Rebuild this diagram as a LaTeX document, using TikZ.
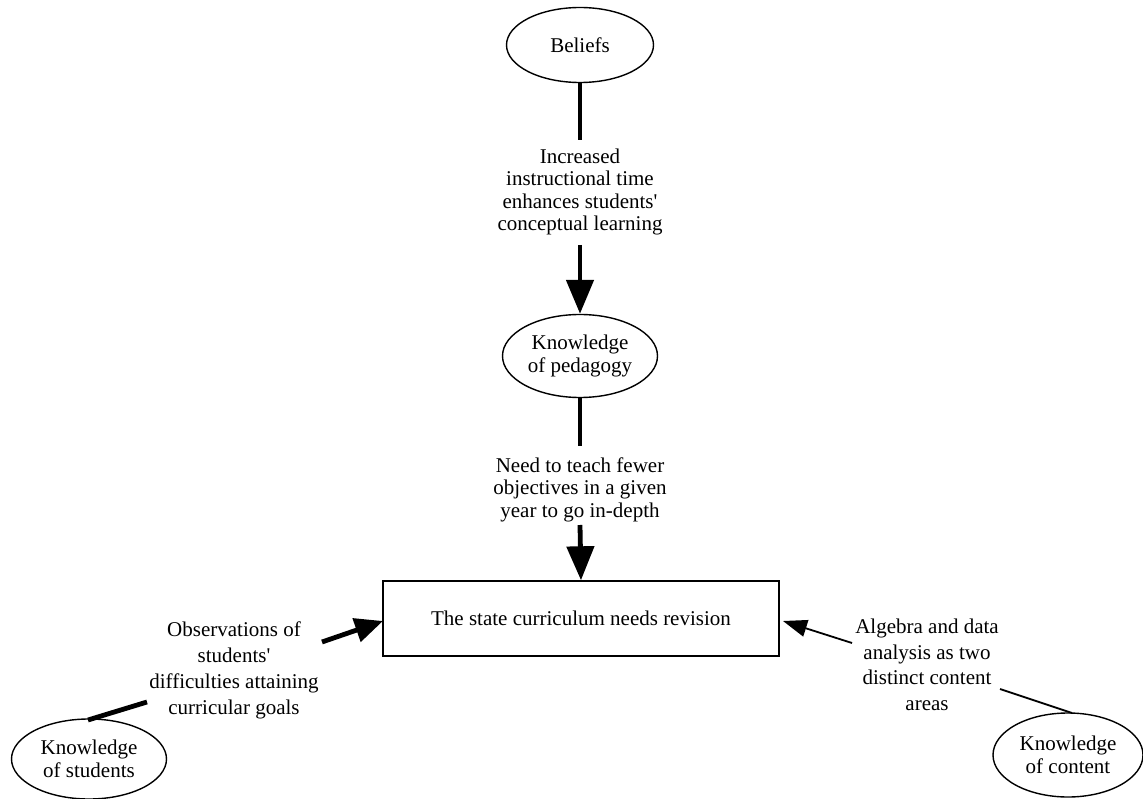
\documentclass[tikz,border=0pt]{standalone}
\usepackage{fontspec}
\setmainfont{Liberation Serif}[Ligatures=TeXOff]
\usetikzlibrary{shapes.geometric,arrows.meta}
\tikzset{
  ell/.style={ellipse, draw, line width=1.4pt, inner sep=0pt, align=center, font=\fontsize{21}{23}\selectfont},
  lbl/.style={align=center, inner sep=0pt},
  thickcon/.style={line width=4.8pt},
  thincon/.style={line width=1.8pt},
  bighead/.style={-{Triangle[length=34pt,width=27pt]}},
  midhead/.style={-{Triangle[length=28pt,width=24pt]}},
  smallhead/.style={-{Triangle[length=24pt,width=17pt]}},
}
\begin{document}
\begin{tikzpicture}[x=1pt,y=-1pt]
\useasboundingbox (0,0) rectangle (1143,799);
% nodes
\node[ell, minimum width=147pt, minimum height=75pt] (bel) at (580,45) {Beliefs};
\node[ell, minimum width=155pt, minimum height=83pt] (ped) at (580,356) {Knowledge\\of pedagogy};
\node[ell, minimum width=155pt, minimum height=80pt] (stu) at (89,759) {Knowledge\\of students};
\node[ell, minimum width=150pt, minimum height=84pt] (con) at (1068,755) {Knowledge\\of content};
\node[draw, line width=1.4pt, minimum width=396pt, minimum height=75pt, inner sep=0pt,
      font=\fontsize{21}{23}\selectfont] (box) at (581,618.5) {The state curriculum needs revision};
\node[lbl, font=\fontsize{21}{22.6}\selectfont] (l1) at (580,192) {Increased\\instructional time\\enhances students'\\conceptual learning};
\node[lbl, font=\fontsize{21}{22.6}\selectfont] (l2) at (580,489.5) {Need to teach fewer\\objectives in a given\\year to go in-depth};
\node[lbl, font=\fontsize{21}{26}\selectfont] (l3) at (234,670) {Observations of\\students'\\difficulties attaining\\curricular goals};
\node[lbl, font=\fontsize{21}{25.5}\selectfont] (l4) at (927,665) {Algebra and data\\analysis as two\\distinct content\\areas};
% connector ends at the labels
\coordinate (l1top) at (580,140);
\coordinate (l1bot) at (580,245);
\coordinate (l2top) at (580,446);
\coordinate (l2bot) at (580,525);
\coordinate (l3out) at (322,642);
\coordinate (l3in) at (147,702);
\coordinate (l4out) at (852,643);
\coordinate (l4in) at (1000,689);
\coordinate (boxL) at (383,621);
\coordinate (boxR) at (783,621);
\coordinate (stuTop) at (88,720);
\coordinate (conTop) at (1072,713);
% connectors
\draw[thickcon] (bel.south) -- (l1top);
\draw[thickcon, bighead] (l1bot) -- (ped.north);
\draw[thickcon] (ped.south) -- (l2top);
\draw[thickcon, bighead] (l2bot) -- (box.north);
\draw[thickcon] (stuTop) -- (l3in);
\draw[thickcon, midhead] (l3out) -- (boxL);
\draw[thincon] (conTop) -- (l4in);
\draw[thincon, smallhead] (l4out) -- (boxR);
\end{tikzpicture}
\end{document}
